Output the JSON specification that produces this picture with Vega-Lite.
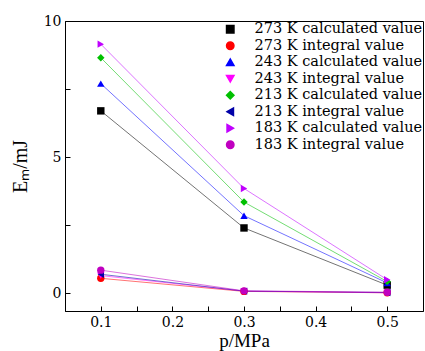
{
  "$schema": "https://vega.github.io/schema/vega-lite/v6.json",
  "width": 358,
  "height": 290,
  "autosize": {"type": "none"},
  "padding": {"left": 65, "top": 21, "right": 2, "bottom": 40},
  "background": "white",
  "config": {
    "view": {"stroke": "black", "strokeWidth": 1},
    "axis": {
      "domainColor": "black",
      "tickColor": "black",
      "labelColor": "black",
      "titleColor": "black",
      "labelFont": "DejaVu Serif",
      "labelFontSize": 14,
      "titleFont": "Liberation Serif",
      "titleFontSize": 19,
      "titleFontWeight": "normal",
      "tickSize": -5,
      "labelPadding": 9,
      "grid": false
    }
  },
  "data": {
    "values": [
      {"p": 0.1, "E": 6.7, "series": "273 K calculated value"},
      {"p": 0.3, "E": 2.4, "series": "273 K calculated value"},
      {"p": 0.5, "E": 0.3, "series": "273 K calculated value"},
      {"p": 0.1, "E": 0.55, "series": "273 K integral value"},
      {"p": 0.3, "E": 0.07, "series": "273 K integral value"},
      {"p": 0.5, "E": 0.02, "series": "273 K integral value"},
      {"p": 0.1, "E": 7.7, "series": "243 K calculated value"},
      {"p": 0.3, "E": 2.85, "series": "243 K calculated value"},
      {"p": 0.5, "E": 0.38, "series": "243 K calculated value"},
      {"p": 0.1, "E": 0.65, "series": "243 K integral value"},
      {"p": 0.3, "E": 0.08, "series": "243 K integral value"},
      {"p": 0.5, "E": 0.02, "series": "243 K integral value"},
      {"p": 0.1, "E": 8.65, "series": "213 K calculated value"},
      {"p": 0.3, "E": 3.35, "series": "213 K calculated value"},
      {"p": 0.5, "E": 0.43, "series": "213 K calculated value"},
      {"p": 0.1, "E": 0.7, "series": "213 K integral value"},
      {"p": 0.3, "E": 0.08, "series": "213 K integral value"},
      {"p": 0.5, "E": 0.03, "series": "213 K integral value"},
      {"p": 0.1, "E": 9.15, "series": "183 K calculated value"},
      {"p": 0.3, "E": 3.85, "series": "183 K calculated value"},
      {"p": 0.5, "E": 0.5, "series": "183 K calculated value"},
      {"p": 0.1, "E": 0.85, "series": "183 K integral value"},
      {"p": 0.3, "E": 0.09, "series": "183 K integral value"},
      {"p": 0.5, "E": 0.04, "series": "183 K integral value"}
    ]
  },
  "encoding": {
    "x": {
      "field": "p", "type": "quantitative",
      "scale": {"domain": [0.05, 0.55], "nice": false, "zero": false},
      "axis": {
        "title": "p/MPa",
        "values": [0.1, 0.15, 0.2, 0.25, 0.3, 0.35, 0.4, 0.45, 0.5],
        "labelExpr": "abs(datum.value*10 - round(datum.value*10)) < 0.01 ? format(datum.value, '.1f') : ''",
        "titlePadding": 2
      }
    },
    "y": {
      "field": "E", "type": "quantitative",
      "scale": {"domain": [-0.65, 10], "nice": false, "zero": false},
      "axis": {
        "title": "Eₘ/mJ",
        "titleFontSize": 20,
        "values": [0, 2.5, 5, 7.5, 10],
        "labelExpr": "datum.value % 5 == 0 ? format(datum.value, 'd') : ''",
        "titlePadding": 13
      }
    },
    "color": {
      "field": "series", "type": "nominal",
      "scale": {
        "domain": ["273 K calculated value", "273 K integral value", "243 K calculated value", "243 K integral value", "213 K calculated value", "213 K integral value", "183 K calculated value", "183 K integral value"],
        "range": ["#000000", "#ff0000", "#0000ff", "#ff00ff", "#00c000", "#0000a8", "#c000ff", "#c000c0"]
      },
      "legend": {
        "title": null,
        "orient": "none",
        "legendX": 158,
        "legendY": 1,
        "padding": 0,
        "symbolSize": 55,
        "symbolOpacity": 1,
        "rowPadding": 1.5,
        "labelOffset": 17,
        "labelLimit": 300,
        "labelColor": "black",
        "labelFont": "DejaVu Serif",
        "labelFontSize": 14.5
      }
    }
  },
  "layer": [
    {
      "mark": {"type": "line", "strokeWidth": 1, "opacity": 0.55}
    },
    {
      "mark": {"type": "point", "filled": true, "size": 55, "opacity": 1},
      "encoding": {
        "shape": {
          "field": "series", "type": "nominal",
          "scale": {
            "domain": ["273 K calculated value", "273 K integral value", "243 K calculated value", "243 K integral value", "213 K calculated value", "213 K integral value", "183 K calculated value", "183 K integral value"],
            "range": ["square", "circle", "triangle-up", "triangle-down", "diamond", "triangle-left", "triangle-right", "circle"]
          },
          "legend": {
            "title": null,
            "orient": "none",
            "legendX": 158,
            "legendY": 1,
            "padding": 0,
            "symbolSize": 55,
            "symbolOpacity": 1,
            "rowPadding": 1.5,
            "labelOffset": 17,
            "labelLimit": 300,
            "labelColor": "black",
            "labelFont": "DejaVu Serif",
            "labelFontSize": 14.5
          }
        }
      }
    }
  ]
}
